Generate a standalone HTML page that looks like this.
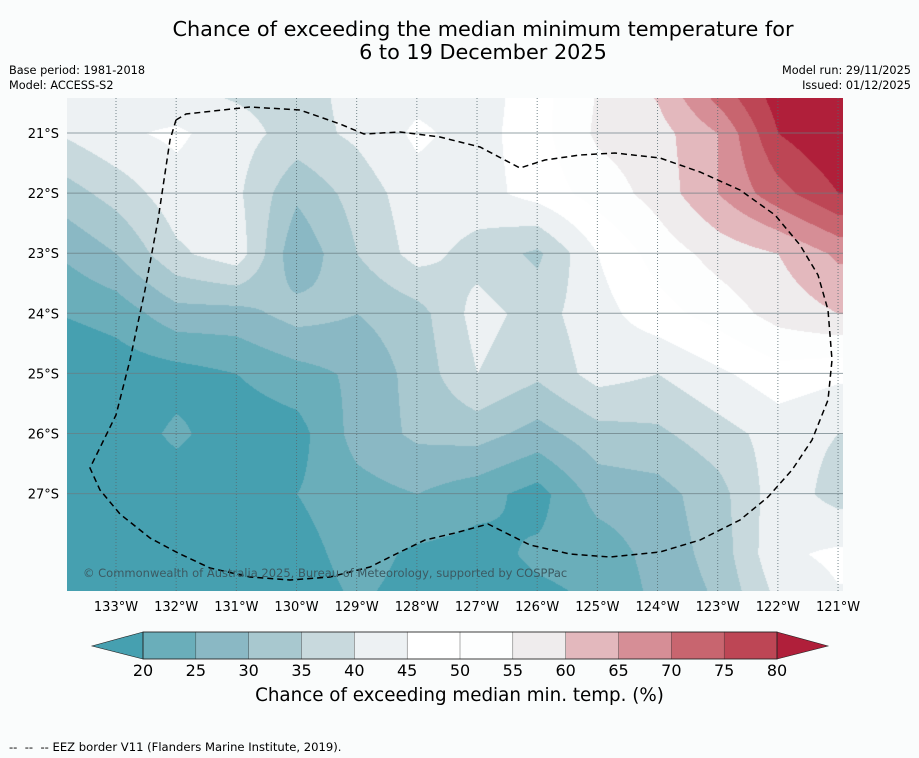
<!DOCTYPE html>
<html><head><meta charset="utf-8">
<style>
body{margin:0;background:#fafcfc;font-family:"DejaVu Sans","Liberation Sans",sans-serif;}
#wrap{position:relative;width:919px;height:758px;overflow:hidden;background:#fafcfc;}
.t{position:absolute;color:#000;white-space:nowrap;}
</style></head>
<body>
<div id="wrap">
<div class="t" style="left:0;width:966px;top:18px;text-align:center;font-size:20.8px;line-height:23px;">Chance of exceeding the median minimum temperature for<br>6 to 19 December 2025</div>
<div class="t" style="left:9px;top:63px;font-size:11.3px;line-height:15px;">Base period: 1981-2018<br>Model: ACCESS-S2</div>
<div class="t" style="right:8px;top:63px;font-size:11.3px;line-height:15px;text-align:right;">Model run: 29/11/2025<br>Issued: 01/12/2025</div>
<canvas id="map" width="776" height="493" style="position:absolute;left:67px;top:98px;"></canvas>
<svg id="ov" width="919" height="758" style="position:absolute;left:0;top:0;"></svg>
<div class="t" style="left:83px;top:566px;font-size:11.5px;color:#3c5a62;">© Commonwealth of Australia 2025, Bureau of Meteorology, supported by COSPPac</div>
<div class="t" style="left:0;width:919px;text-align:center;top:685px;font-size:18.3px;">Chance of exceeding median min. temp. (%)</div>
<div class="t" style="left:9px;top:740px;font-size:11.6px;">-- &nbsp;-- &nbsp;-- EEZ border V11 (Flanders Marine Institute, 2019).</div>
</div>
<script>
// grid data: longitudes (°W), latitudes (°S), values (%) per latitude row
const lons=[134,133,132,131,130,129,128,127,126,125,124,123,122,121];
const lats=[20,21,22,23,24,25,26,27,28,29];
const row20=[42,42,38,38,38,42,42,42,48,55,62,76,84,86];
const row21=[40,44,46,42,38,41,46,43,48,56,58,65,80,85];
const row22=[32,37,43,41,31,37,43,43,47,52,57,65,73,80];
const row23=[25,30,39,43,26,35,42,38,34,45,52,57,60,66];
const row24=[20,22,28,28,32,30,33,42,38,43,48,52,57,60];
const row25=[15,17,18,20,23,26,32,40,36,42,40,44,48,46];
const row26=[15,17,21,17,18,27,31,32,28,33,34,38,42,40];
const row27=[15,16,17,17,20,23,25,22,18,27,28,33,43,38];
const row28=[15,16,16,17,18,22,19,18,21,22,27,32,44,46];
const row29=[14,15,15,16,17,20,18,17,18,20,26,30,40,44];
const grid=[row20,row21,row22,row23,row24,row25,row26,row27,row28,row29];
const levels=[20,25,30,35,40,45,50,55,60,65,70,75,80];
const colors=["#46a0b0","#6aaeba","#8ab8c4","#a8c8cf","#c8d9dd","#edf1f3","#ffffff","#fdfefe","#efeced","#e3b8bd","#d68e96","#c8656f","#bd4655","#b01f3a"];
const tickLons=[133,132,131,130,129,128,127,126,125,124,123,122,121];
const tickLats=[21,22,23,24,25,26,27];

// axis functions
const X0=116,DX=60.17,Y0=133,DY=60.1;
function xOf(lon){return X0+(133-lon)*DX;}
function yOf(lat){return Y0+(lat-21)*DY;}
function lonOf(x){return 133-(x-X0)/DX;}
function latOf(y){return 21+(y-Y0)/DY;}
function valAt(lon,lat){
  let fi=(lons[0]-lon), fj=(lat-lats[0]);
  fi=Math.max(0,Math.min(lons.length-1.001,fi)); fj=Math.max(0,Math.min(lats.length-1.001,fj));
  const i=Math.floor(fi),j=Math.floor(fj),a=fi-i,b=fj-j;
  return grid[j][i]*(1-a)*(1-b)+grid[j][i+1]*a*(1-b)+grid[j+1][i]*(1-a)*b+grid[j+1][i+1]*a*b;
}
function band(v){let k=0;while(k<levels.length&&v>=levels[k])k++;return k;}
function hex(c){return [parseInt(c.substr(1,2),16),parseInt(c.substr(3,2),16),parseInt(c.substr(5,2),16)];}
const rgb=colors.map(hex);

const cv=document.getElementById('map'),ctx=cv.getContext('2d');
const W=cv.width,H=cv.height,img=ctx.createImageData(W,H);
for(let py=0;py<H;py++){for(let px=0;px<W;px++){
  const v=valAt(lonOf(px+67),latOf(py+98));const c=rgb[band(v)];const o=(py*W+px)*4;
  img.data[o]=c[0];img.data[o+1]=c[1];img.data[o+2]=c[2];img.data[o+3]=255;}}
ctx.putImageData(img,0,0);

const NS='http://www.w3.org/2000/svg',sv=document.getElementById('ov');
function mk(t,at){const e=document.createElementNS(NS,t);for(const k in at)e.setAttribute(k,at[k]);sv.appendChild(e);return e;}
tickLons.forEach(l=>{const x=xOf(l);
  const g=mk('line',{x1:x,y1:98,x2:x,y2:591,stroke:'#556a70','stroke-width':1,'stroke-dasharray':'1,2',opacity:0.8});
  
  
  const t=mk('text',{x:x,y:611,'font-size':13,'text-anchor':'middle','font-family':'DejaVu Sans, sans-serif'});t.textContent=l+'°W';
  
  
});
tickLats.forEach(l=>{const y=yOf(l);
  const g=mk('line',{x1:67,y1:y,x2:843,y2:y,stroke:'#6a7c82','stroke-width':1,opacity:0.7});
  
  
  const t=mk('text',{x:59,y:y+5,'font-size':13,'text-anchor':'end','font-family':'DejaVu Sans, sans-serif'});t.textContent=l+'°S';
  
  
});
// EEZ border
const eez=[[176,120],[186,114],[250,107],[300,110],[340,124],[364,134],[400,132],[440,137],[480,147],[520,168],[545,160],[580,155],[615,153],[660,158],[700,172],[740,190],[775,215],[800,245],[818,275],[828,310],[832,360],[828,400],[812,440],[792,470],[768,497],[740,520],[700,540],[660,552],[610,557],[570,554],[530,545],[488,524],[455,533],[425,540],[400,552],[370,567],[330,577],[290,580],[250,577],[210,568],[178,553],[150,538],[120,514],[100,490],[90,468],[116,415],[130,360],[145,290],[158,220],[170,140],[176,120]];
const pl=mk('polyline',{points:eez.map(p=>p.join(',')).join(' '),fill:'none',stroke:'#000','stroke-width':1.5,'stroke-dasharray':'6,4'});


// colorbar
const cbX0=143,cbW=(777-143)/12;
for(let k=1;k<13;k++){const r=mk('rect',{x:cbX0+(k-1)*cbW,y:632,width:cbW+0.5,height:27,fill:colors[k],stroke:'#333','stroke-width':0.4});
  
  }
const lt=mk('polygon',{points:'143,632 92,646 143,659',fill:colors[0],stroke:'#222','stroke-width':0.6});


const rt=mk('polygon',{points:'777,632 828,646 777,659',fill:colors[13],stroke:'#222','stroke-width':0.6});


mk('rect',{x:143,y:632,width:634,height:27,fill:'none',stroke:'#222','stroke-width':0.8});
levels.forEach((l,k)=>{const t=mk('text',{x:cbX0+k*cbW,y:676,'font-size':16,'text-anchor':'middle','font-family':'DejaVu Sans, sans-serif'});t.textContent=l;
  
  });
</script>
</body></html>
